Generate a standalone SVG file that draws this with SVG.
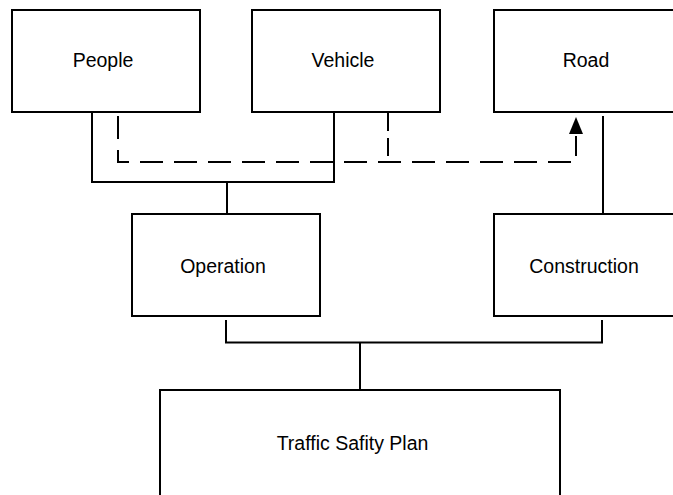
<svg xmlns="http://www.w3.org/2000/svg" width="673" height="495" viewBox="0 0 673 495">
<defs>
<style>
.box{fill:#fff;stroke:#000;stroke-width:2}
.lbl{font-family:"Liberation Sans",Arial,sans-serif;font-size:19.5px;fill:#000;text-anchor:middle}
.ln{fill:none;stroke:#000;stroke-width:2}
.dash{fill:none;stroke:#000;stroke-width:2;stroke-dasharray:23 11}
</style>
<marker id="arr" viewBox="0 0 14 18" refX="7" refY="0" markerWidth="14" markerHeight="18" markerUnits="userSpaceOnUse" orient="auto-start-reverse">
<path d="M0,18 L7,0 L14,18 Z" fill="#000"/>
</marker>
</defs>
<rect width="673" height="495" fill="#fff"/>
<g id="connectors">
<path class="ln" d="M92,112 V182 H334 V112"/>
<path class="ln" d="M227,182 V214"/>
<path class="ln" d="M603,116 V214"/>
<path class="ln" d="M226,320 V342.5 H602 V320"/>
<path class="ln" d="M360,342.5 V390"/>
<path class="dash" d="M118,116 V162 H576 V136"/>
<path fill="#000" d="M569,134 L576,117 L583,134 Z"/>
<path class="dash" d="M388,113 V162" style="stroke-dasharray:18 7"/>
</g>
<g id="people"><rect class="box" x="12" y="10" width="188" height="102"/><text class="lbl" x="103" y="67">People</text></g>
<g id="vehicle"><rect class="box" x="252" y="10" width="188" height="102"/><text class="lbl" x="343" y="67">Vehicle</text></g>
<g id="road"><rect class="box" x="494" y="10" width="188" height="102"/><text class="lbl" x="586" y="67">Road</text></g>
<g id="operation"><rect class="box" x="132" y="214" width="188" height="102"/><text class="lbl" x="223" y="273">Operation</text></g>
<g id="construction"><rect class="box" x="494" y="214" width="188" height="102"/><text class="lbl" x="584" y="273">Construction</text></g>
<g id="plan"><rect class="box" x="160" y="390" width="400" height="120"/><text class="lbl" x="352.5" y="450">Traffic Safity Plan</text></g>
</svg>
